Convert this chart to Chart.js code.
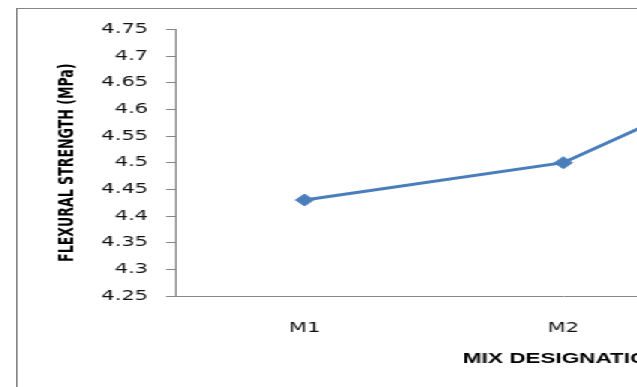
<!DOCTYPE html>
<html>
<head>
<meta charset="utf-8">
<script src="https://cdn.jsdelivr.net/npm/chart.js@4.4.1/dist/chart.umd.min.js"></script>
<style>
    html, body {
        margin: 0;
        width: 637px;
        height: 387px;
        overflow: hidden;
        background: #fff;
    }
    /* the chart sheet is drawn narrow, then stretched sideways */
    .sheet {
        position: absolute;
        left: 16px;
        top: 8px;
        width: 660px;
        height: 410px;
        border: 1px solid #868686;
        background: #fff;
        transform: scaleX(1.5);
        transform-origin: 0 0;
    }
    .sheet canvas {
        display: block;
    }
</style>
</head>
<body>
<div class="sheet">
    <canvas id="flexChart" width="660" height="410"></canvas>
</div>
<script>
        const categories = ['M1', 'M2', 'M3'];
        const flexuralStrength = [4.43, 4.50, 4.72];
        const yTicks = [4.25, 4.3, 4.35, 4.4, 4.45, 4.5, 4.55, 4.6, 4.65, 4.7, 4.75];

        const axisGrey = '#868686';
        const textColor = '#111';
        const tickFont = { family: "'DejaVu Sans', Verdana, sans-serif", size: 14 };

        const ctx = document.getElementById('flexChart').getContext('2d');
        const flexChart = new Chart(ctx, {
            type: 'line',
            data: {
                labels: categories,
                datasets: [{
                    label: 'Flexural strength',
                    data: flexuralStrength,
                    borderColor: '#4a7ebb',
                    backgroundColor: '#4a7ebb',
                    borderWidth: 3,
                    tension: 0,
                    pointStyle: 'rectRot',
                    pointRadius: 6,
                    pointBorderWidth: 1,
                    pointBackgroundColor: '#4a7ebb',
                    pointBorderColor: '#4a7ebb'
                }]
            },
            options: {
                responsive: false,
                animation: false,
                devicePixelRatio: 1,
                layout: {
                    padding: { left: 0, top: 19, right: 37, bottom: 48 }
                },
                plugins: {
                    legend: { display: false },
                    tooltip: { enabled: false }
                },
                scales: {
                    x: {
                        offset: true,
                        grid: { display: false },
                        border: { color: axisGrey, width: 1 },
                        ticks: {
                            color: textColor,
                            font: tickFont,
                            padding: 16,
                            maxRotation: 0
                        },
                        title: {
                            display: true,
                            text: 'MIX DESIGNATION',
                            color: '#000',
                            font: { family: "'Liberation Sans', Arial, sans-serif", size: 15, weight: 'bold' },
                            padding: { top: 0, bottom: 3 }
                        },
                        afterFit: (scale) => { scale.height = 75; }
                    },
                    y: {
                        min: 4.25,
                        max: 4.75,
                        afterBuildTicks: (scale) => {
                            scale.ticks = yTicks.map(v => ({ value: v }));
                        },
                        grid: {
                            drawOnChartArea: false,
                            drawTicks: true,
                            tickLength: 6,
                            color: axisGrey
                        },
                        border: { color: axisGrey, width: 1 },
                        ticks: {
                            color: textColor,
                            font: tickFont,
                            padding: 12,
                            callback: (v) => String(v)
                        },
                        title: {
                            display: true,
                            text: 'FLEXURAL STRENGTH (MPa)',
                            color: '#000',
                            font: { family: "'DejaVu Sans Condensed', 'DejaVu Sans', sans-serif", size: 14, weight: 'bold' },
                            padding: { top: 25, bottom: 0 }
                        },
                        afterFit: (scale) => { scale.width = 105; }
                    }
                }
            }
        });
</script>
</body>
</html>
